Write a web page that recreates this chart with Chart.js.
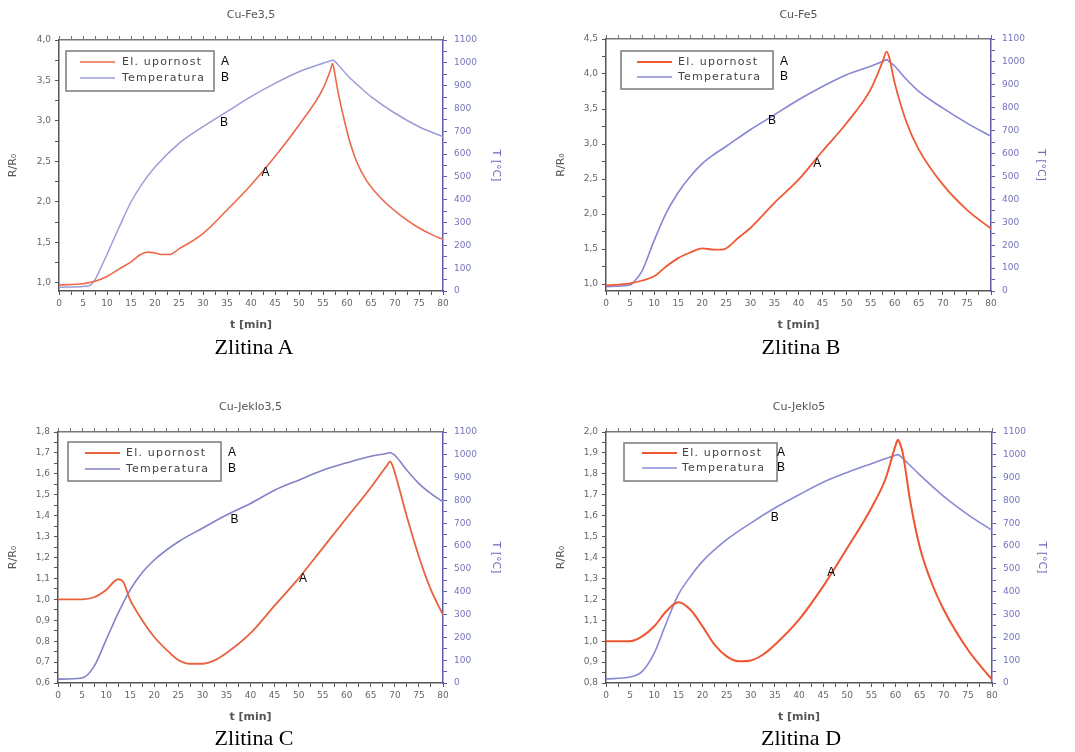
<!DOCTYPE html>
<html><head><meta charset="utf-8">
<script src="https://cdn.jsdelivr.net/npm/chart.js@4.4.1/dist/chart.umd.min.js"></script>
<style>
html,body{margin:0;padding:0;background:#fff;width:1075px;height:752px;overflow:hidden;position:relative}
canvas{position:absolute}
.cap{position:absolute;font-family:"Liberation Serif","Times New Roman",serif;font-size:22px;color:#000;transform:translate(-50%,-50%);white-space:nowrap}
</style></head><body>
<canvas id="cA" width="537" height="340" style="left:0;top:0"></canvas>
<canvas id="cB" width="527" height="340" style="left:548px;top:0"></canvas>
<canvas id="cC" width="537" height="340" style="left:0;top:392px"></canvas>
<canvas id="cD" width="527" height="340" style="left:548px;top:392px"></canvas>
<div class="cap" style="left:254px;top:347px">Zlitina A</div>
<div class="cap" style="left:801px;top:347px">Zlitina B</div>
<div class="cap" style="left:254px;top:738px">Zlitina C</div>
<div class="cap" style="left:801px;top:738px">Zlitina D</div>
<script>
// ---------- data ----------
const titles = ['Cu-Fe3,5', 'Cu-Fe5', 'Cu-Jeklo3,5', 'Cu-Jeklo5'];
const seriesLabels = ['El. upornost', 'Temperatura'];
const seriesTags = ['A', 'B'];

const xTicks = [0,2.5,5,7.5,10,12.5,15,17.5,20,22.5,25,27.5,30,32.5,35,37.5,40,42.5,45,47.5,50,52.5,55,57.5,60,62.5,65,67.5,70,72.5,75,77.5,80];
const xMajor = [0,5,10,15,20,25,30,35,40,45,50,55,60,65,70,75,80];
const tempTicks = [0,50,100,150,200,250,300,350,400,450,500,550,600,650,700,750,800,850,900,950,1000,1050,1100];
const tempMajor = [0,100,200,300,400,500,600,700,800,900,1000,1100];

const rTicksA = [1.0,1.25,1.5,1.75,2.0,2.25,2.5,2.75,3.0,3.25,3.5,3.75,4.0];
const rMajorA = [1.0,1.5,2.0,2.5,3.0,3.5,4.0];
const rTicksB = [1.0,1.25,1.5,1.75,2.0,2.25,2.5,2.75,3.0,3.25,3.5,3.75,4.0,4.25,4.5];
const rMajorB = [1.0,1.5,2.0,2.5,3.0,3.5,4.0,4.5];
const rTicksC = [0.6,0.65,0.7,0.75,0.8,0.85,0.9,0.95,1.0,1.05,1.1,1.15,1.2,1.25,1.3,1.35,1.4,1.45,1.5,1.55,1.6,1.65,1.7,1.75,1.8];
const rMajorC = [0.6,0.7,0.8,0.9,1.0,1.1,1.2,1.3,1.4,1.5,1.6,1.7,1.8];
const rTicksD = [0.8,0.85,0.9,0.95,1.0,1.05,1.1,1.15,1.2,1.25,1.3,1.35,1.4,1.45,1.5,1.55,1.6,1.65,1.7,1.75,1.8,1.85,1.9,1.95,2.0];
const rMajorD = [0.8,0.9,1.0,1.1,1.2,1.3,1.4,1.5,1.6,1.7,1.8,1.9,2.0];

// Zlitina A (Cu-Fe3,5)
const timeResA = [0,5,7.5,10,12.5,15,17,18.5,20,21.5,23,25,30,35,40,45,50,55,56.5,57,57.5,58,59,60.6,62,64,67.5,71,74.4,77.9,80];
const resA     = [0.975,0.99,1.02,1.08,1.17,1.26,1.35,1.38,1.37,1.35,1.35,1.42,1.61,1.90,2.21,2.56,2.95,3.40,3.62,3.71,3.57,3.40,3.12,2.74,2.50,2.27,2.02,1.84,1.70,1.59,1.54];
const timeTempA = [0,5,6.5,7.5,9,10,11,12.5,15,17.5,20,25,30,35,40,45,50,55,56.5,57,57.5,58,60,63,65,70,75,80];
const tempA     = [16,20,25,50,115,160,208,278,390,475,543,647,720,786,852,910,961,998,1008,1012,1005,995,947,888,852,779,720,676];

// Zlitina B (Cu-Fe5)
const timeResB = [0,5,7.5,10,12.5,15,17.5,20,22.5,24,25,27.5,30,35,40,45,50,55,57.5,58.3,58.8,60,62.5,65,70,75,80];
const resB     = [0.98,1.01,1.05,1.11,1.25,1.37,1.45,1.51,1.49,1.49,1.51,1.66,1.80,2.16,2.49,2.90,3.30,3.78,4.18,4.32,4.25,3.87,3.30,2.92,2.42,2.06,1.79];
const timeTempB = [0,5,6,7.5,10,12.5,15,17.5,20,22.5,25,30,35,40,45,50,55,57.8,58.3,58.8,60,62.5,65,70,75,80];
const tempB     = [19,26,45,88,220,340,430,500,556,597,632,704,769,835,893,944,981,1005,1010,1002,981,922,871,798,733,675];

// Zlitina C (Cu-Jeklo3,5)
const timeResC = [0,5,7.5,10,12.5,13.5,15,17.5,20,22.5,25,27.5,30,32.5,35,40,45,50,55,60,65,68.5,69,69.5,70,72.5,75,77.5,80];
const resC     = [1.0,1.0,1.01,1.045,1.096,1.085,0.997,0.90,0.82,0.76,0.71,0.692,0.692,0.708,0.743,0.838,0.97,1.10,1.245,1.39,1.535,1.645,1.66,1.64,1.605,1.395,1.204,1.045,0.926];
const timeTempC = [0,5,7.5,10,12.5,15,17.5,20,25,30,35,40,45,50,55,60,65,68.5,69,69.5,70,72.5,75,77.5,80];
const tempC     = [17,22,73,189,306,408,484,539,619,678,736,787,845,889,932,965,994,1007,1010,1005,998,932,874,830,794];

// Zlitina D (Cu-Jeklo5)
const timeResD = [0,5,7.5,10,12.5,15,17.5,20,22.5,25,27.5,30,32.5,35,40,45,50,55,58,60,60.5,61,61.5,63,65,67.5,70,75,80];
const resD     = [1.0,1.0,1.023,1.071,1.143,1.186,1.15,1.071,0.983,0.927,0.904,0.908,0.935,0.983,1.103,1.262,1.445,1.637,1.78,1.935,1.963,1.94,1.90,1.676,1.453,1.278,1.15,0.959,0.816];
const timeTempD = [0,5,7.5,10,12.5,15,17.5,20,25,30,35,40,45,50,55,60,60.5,61,62.5,65,70,75,80];
const tempD     = [18,26,51,131,263,387,467,533,628,701,767,825,880,923,961,998,1001,994,964,913,818,738,669];

// curve tag positions [t, value]
const tagPosA = [[43.0, 2.36], [34.4, 736]];
const tagPosB = [[43.9, 2.72], [34.5, 742]];
const tagPosC = [[50.9, 1.097], [36.7, 716]];
const tagPosD = [[46.7, 1.328], [35.0, 723]];

// ---------- drawing ----------
const FONT = '"DejaVu Sans", Arial, sans-serif';
const pairs = (xs, ys) => xs.map((x, i) => ({x: x, y: ys[i]}));
const comma = v => v.toFixed(1).replace('.', ',');

const framePlugin = {
  id: 'frameLegend',
  afterDatasetsDraw(chart, args, o) {
    const ca = chart.chartArea, ctx = chart.ctx;
    ctx.save();
    ctx.strokeStyle = '#7a7a7a'; ctx.lineWidth = 1.5;
    ctx.strokeRect(ca.left + o.bx, ca.top + o.by, o.bw, o.bh);
    chart.data.datasets.forEach((ds, i) => {
      const y = ca.top + o.rows[i];
      ctx.strokeStyle = ds.borderColor; ctx.lineWidth = ds.borderWidth;
      ctx.beginPath(); ctx.moveTo(ca.left + o.lx0, y); ctx.lineTo(ca.left + o.lx1, y); ctx.stroke();
      ctx.fillStyle = '#444'; ctx.font = '11px ' + FONT;
      ctx.textAlign = 'left'; ctx.textBaseline = 'middle';
      ctx.letterSpacing = '1.2px';
      ctx.fillText(ds.label, ca.left + o.tx, y);
      ctx.letterSpacing = '0px';
      ctx.fillStyle = '#000'; ctx.font = '12px "Liberation Sans", Arial, sans-serif';
      ctx.fillText(ds.tag, ca.left + o.kx, y);
    });
    ctx.textAlign = 'center'; ctx.textBaseline = 'middle';
    chart.data.datasets.forEach(ds => {
      const sx = chart.scales.x, sy = chart.scales[ds.yAxisID];
      ctx.fillText(ds.tag, sx.getPixelForValue(ds.tagAt[0]), sy.getPixelForValue(ds.tagAt[1]));
    });
    ctx.restore();
  }
};

function makeChart(id, c) {
  const tickFont = {family: FONT, size: 9};
  return new Chart(document.getElementById(id), {
    type: 'line',
    data: {datasets: [
      {label: seriesLabels[0], tag: seriesTags[0], tagAt: c.tags[0], data: pairs(c.tR, c.R), yAxisID: 'y',
       borderColor: c.red, borderWidth: c.rw, pointRadius: 0, fill: false, cubicInterpolationMode: 'monotone'},
      {label: seriesLabels[1], tag: seriesTags[1], tagAt: c.tags[1], data: pairs(c.tT, c.T), yAxisID: 'y2',
       borderColor: c.blue, borderWidth: c.bw, pointRadius: 0, fill: false, cubicInterpolationMode: 'monotone'}
    ]},
    options: {
      responsive: false, animation: false, devicePixelRatio: 1,
      layout: {padding: 0},
      plugins: {
        legend: {display: false}, tooltip: {enabled: false},
        title: {display: true, text: c.title, fullSize: false, color: '#555',
                font: {family: FONT, size: 11, weight: 'normal', lineHeight: '12px'},
                padding: {top: 9, bottom: c.tb}},
        frameLegend: c.leg
      },
      scales: {
        x: {type: 'linear', position: 'bottom', min: 0, max: 80,
            afterBuildTicks: s => { s.ticks = xTicks.map(v => ({value: v})); },
            afterFit: s => { s.height = 49; },
            ticks: {autoSkip: false, maxRotation: 0, padding: 3, color: '#666', font: tickFont,
                    callback: v => xMajor.includes(v) ? String(v) : ''},
            grid: {drawOnChartArea: false, tickLength: 4, color: '#555'},
            border: {color: '#555', width: 1.5},
            title: {display: true, text: 't [min]', color: '#555', font: {family: FONT, size: 11, weight: 'bold'}, padding: {top: 0, bottom: 8}}},
        xTop: {type: 'linear', position: 'top', min: 0, max: 80,
            afterBuildTicks: s => { s.ticks = xTicks.map(v => ({value: v})); },
            afterFit: s => { s.height = 4; },
            ticks: {display: false, autoSkip: false},
            grid: {drawOnChartArea: false, tickLength: 4, color: '#777'},
            border: {color: '#777', width: 1.5}},
        y: {type: 'linear', position: 'left', min: c.rMin, max: c.rMax,
            afterBuildTicks: s => { s.ticks = c.rTicks.map(v => ({value: v})); },
            afterFit: s => { s.width = c.lw; },
            ticks: {autoSkip: false, padding: 4, color: '#666', font: tickFont,
                    callback: v => c.rMajor.includes(v) ? comma(v) : ''},
            grid: {drawOnChartArea: false, tickLength: 4, color: '#555'},
            border: {color: '#555', width: 1.5},
            title: {display: true, text: 'R/R₀', color: '#555', font: {family: FONT, size: 11}, padding: {top: 7, bottom: 0}}},
        y2: {type: 'linear', position: 'right', min: 0, max: 1100,
            afterBuildTicks: s => { s.ticks = tempTicks.map(v => ({value: v})); },
            afterFit: s => { s.width = c.rwid; },
            ticks: {autoSkip: false, padding: 7, color: '#7474bd', font: tickFont,
                    callback: v => tempMajor.includes(v) ? String(v) : ''},
            grid: {drawOnChartArea: false, tickLength: 4, color: '#5d5dab'},
            border: {color: '#5d5dab', width: 1.5},
            title: {display: true, text: 'T [°C]', color: '#6c6cb8', font: {family: FONT, size: 11}, padding: {top: c.rtp, bottom: 0}}}
      }
    },
    plugins: [framePlugin]
  });
}

makeChart('cA', {title: titles[0], tR: timeResA, R: resA, tT: timeTempA, T: tempA, tags: tagPosA,
  rMin: 0.9, rMax: 4.0, rTicks: rTicksA, rMajor: rMajorA, lw: 59, rwid: 94, rtp: 35, tb: 15,
  red: '#ec6a4a', blue: '#9c9cd8', rw: 1.6, bw: 1.5,
  leg: {bx: 7, by: 11, bw: 148, bh: 40, rows: [22, 38], lx0: 21, lx1: 56, tx: 63, kx: 162}});
makeChart('cB', {title: titles[1], tR: timeResB, R: resB, tT: timeTempB, T: tempB, tags: tagPosB,
  rMin: 0.9, rMax: 4.5, rTicks: rTicksB, rMajor: rMajorB, lw: 58, rwid: 84, rtp: 28, tb: 14,
  red: '#ee5a36', blue: '#8686d4', rw: 1.8, bw: 1.6,
  leg: {bx: 15, by: 12, bw: 152, bh: 38, rows: [23, 38], lx0: 31, lx1: 66, tx: 72, kx: 174}});
makeChart('cC', {title: titles[2], tR: timeResC, R: resC, tT: timeTempC, T: tempC, tags: tagPosC,
  rMin: 0.6, rMax: 1.8, rTicks: rTicksC, rMajor: rMajorC, lw: 58, rwid: 94, rtp: 35, tb: 15,
  red: '#e8623e', blue: '#8282c8', rw: 1.8, bw: 1.6,
  leg: {bx: 10, by: 10, bw: 153, bh: 39, rows: [21, 37], lx0: 27, lx1: 62, tx: 68, kx: 170}});
makeChart('cD', {title: titles[3], tR: timeResD, R: resD, tT: timeTempD, T: tempD, tags: tagPosD,
  rMin: 0.8, rMax: 2.0, rTicks: rTicksD, rMajor: rMajorD, lw: 58, rwid: 83, rtp: 27, tb: 15,
  red: '#ee5530', blue: '#8a8ad4', rw: 2, bw: 1.6,
  leg: {bx: 18, by: 11, bw: 153, bh: 38, rows: [21, 36], lx0: 36, lx1: 71, tx: 76, kx: 171}});
</script>
</body></html>
